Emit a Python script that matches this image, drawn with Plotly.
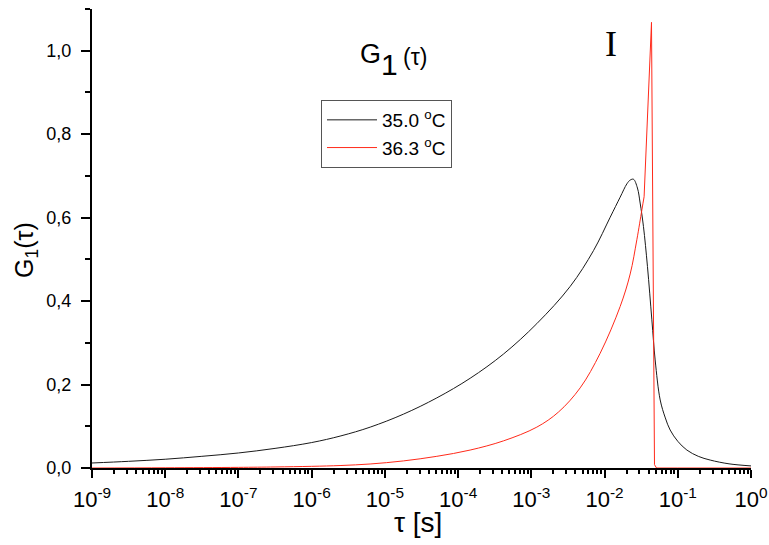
import plotly.graph_objects as go

# Relaxation-time distributions G1(tau), log10 of tau in seconds
log_tau_35 = [-9.0, -8.5, -8.0, -7.5, -7.0, -6.5, -6.0, -5.6, -5.2, -4.747, -4.291,
              -3.836, -3.381, -2.925, -2.47, -2.151, -1.923, -1.787, -1.695,
              -1.65, -1.605, -1.551, -1.514, -1.469, -1.414, -1.354, -1.309, -1.24,
              -1.17, -1.104, -1.0, -0.876, -0.72, -0.557, -0.3, 0.0]
g1_35 = [0.012, 0.016, 0.021, 0.028, 0.036, 0.047, 0.061, 0.077, 0.098, 0.129, 0.168,
         0.215, 0.273, 0.346, 0.435, 0.521, 0.601, 0.649, 0.681, 0.690, 0.692,
         0.671, 0.635, 0.579, 0.483, 0.355, 0.259, 0.163, 0.120, 0.091, 0.064, 0.043,
         0.028, 0.019, 0.010, 0.005]

log_tau_363 = [-9.0, -8.0, -7.0, -6.5, -6.0, -5.6, -5.202, -4.747, -4.291, -3.836,
               -3.381, -2.925, -2.63, -2.333, -2.06, -1.787, -1.65, -1.559, -1.49,
               -1.46, -1.359, -1.318, -1.29, -1.0, -0.5, 0.0]
g1_363 = [0.0, 0.0005, 0.0015, 0.0025, 0.004, 0.006, 0.0096, 0.017, 0.028, 0.043,
          0.065, 0.098, 0.134, 0.192, 0.275, 0.387, 0.465, 0.547, 0.619, 0.650, 1.068,
          0.008, 0.0, 0.0, 0.0, 0.0]

series_names = ["35.0 <sup>o</sup>C", "36.3 <sup>o</sup>C"]
x_tick_exponents = [-9, -8, -7, -6, -5, -4, -3, -2, -1, 0]

FONT = "Arial, Liberation Sans, sans-serif"
BLACK = "#1a1a1a"
RED = "#ff2a1a"

taus_35 = [10 ** v for v in log_tau_35]
taus_363 = [10 ** v for v in log_tau_363]

# the 36.3 C curve is smooth up to the foot of its narrow spike, then straight segments
split = log_tau_363.index(-1.46)

fig = go.Figure()
fig.add_trace(go.Scatter(
    x=taus_35, y=g1_35, mode="lines", name=series_names[0],
    line=dict(color=BLACK, width=1, shape="spline", smoothing=1.0)))
fig.add_trace(go.Scatter(
    x=taus_363[:split + 1], y=g1_363[:split + 1], mode="lines", name=series_names[1],
    legendgroup="t363",
    line=dict(color=RED, width=1, shape="spline", smoothing=1.0)))
fig.add_trace(go.Scatter(
    x=taus_363[split:], y=g1_363[split:], mode="lines", name=series_names[1],
    legendgroup="t363", showlegend=False,
    line=dict(color=RED, width=1)))

fig.update_layout(
    width=769, height=545,
    margin=dict(l=92, r=18, t=9, b=77, autoexpand=False),
    paper_bgcolor="white", plot_bgcolor="white",
    separators=", ",
    font=dict(family=FONT, size=18, color="black"),
    showlegend=True,
    legend=dict(
        x=(321 - 92) / 659, y=(468 - 100) / 459, xanchor="left", yanchor="top",
        bordercolor="#555555", borderwidth=1, bgcolor="white",
        font=dict(family=FONT, size=19), tracegroupgap=0,
        itemwidth=50,
    ),
)

minor_x = [m * 10 ** e for e in range(-9, 0) for m in range(2, 10)]

fig.update_xaxes(
    type="log", range=[-9, 0],
    tickvals=[10 ** e for e in x_tick_exponents],
    ticktext=[f"10<sup>{e}</sup>" for e in x_tick_exponents],
    showline=True, linecolor="black", linewidth=2,
    ticks="outside", ticklen=8, tickwidth=2, tickcolor="black",
    minor=dict(tickmode="array", tickvals=minor_x, ticks="outside", ticklen=4,
               tickwidth=1.5, tickcolor="black", showgrid=False),
    showgrid=False, zeroline=False,
    tickfont=dict(family=FONT, size=22),
    ticklabelstandoff=3,
    title=None,
    automargin=False,
)
fig.update_yaxes(
    range=[0, 1.1],
    tickvals=[0, 0.2, 0.4, 0.6, 0.8, 1.0], tickformat=".1f",
    showline=True, linecolor="black", linewidth=2,
    ticks="outside", ticklen=9, tickwidth=2, tickcolor="black",
    minor=dict(dtick=0.1, ticks="outside", ticklen=5, tickwidth=1.5, tickcolor="black",
               showgrid=False),
    showgrid=False, zeroline=False,
    tickfont=dict(family=FONT, size=18),
    ticklabelstandoff=6,
    automargin=False,
)

# X axis title
fig.add_annotation(
    xref="paper", yref="paper", x=(418 - 92) / 659, y=(468 - 522) / 459,
    xanchor="center", yanchor="middle", text="\u03c4 [s]", showarrow=False,
    font=dict(family=FONT, size=28),
)

# Y axis title: G with subscript 1, then (tau)
fig.add_annotation(
    xref="paper", yref="paper", x=(26 - 92) / 659, y=(468 - 250) / 459,
    xanchor="center", yanchor="middle",
    text="G<sub>1</sub>(\u03c4)", textangle=-90, showarrow=False,
    font=dict(family=FONT, size=25),
)

# In-plot heading G1(tau), with a large subscript
fig.add_annotation(xref="paper", yref="paper", x=(370 - 92) / 659, y=(468 - 54) / 459,
                   text="G", showarrow=False, xanchor="center", yanchor="middle",
                   font=dict(family=FONT, size=27))
fig.add_annotation(xref="paper", yref="paper", x=(389.5 - 92) / 659, y=(468 - 64) / 459,
                   text="1", showarrow=False, xanchor="center", yanchor="middle",
                   font=dict(family=FONT, size=30))
fig.add_annotation(xref="paper", yref="paper", x=(415 - 92) / 659, y=(468 - 57) / 459,
                   text="(\u03c4)", showarrow=False, xanchor="center", yanchor="middle",
                   font=dict(family=FONT, size=23))

# Region marker
fig.add_annotation(xref="paper", yref="paper", x=(610.5 - 92) / 659, y=(468 - 44) / 459,
                   text="I", showarrow=False, xanchor="center", yanchor="middle",
                   font=dict(family="Liberation Serif, Times New Roman, serif", size=36))

fig.write_html("out.html")
